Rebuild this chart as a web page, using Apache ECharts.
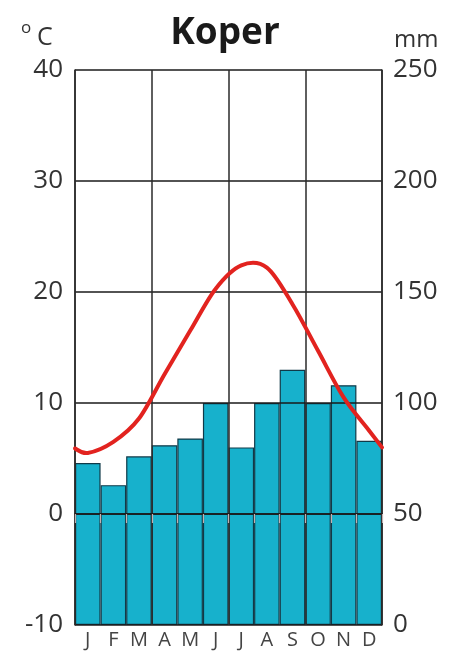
<!DOCTYPE html>
<html>
<head>
<meta charset="utf-8">
<script src="https://cdn.jsdelivr.net/npm/echarts@6/dist/echarts.min.js"></script>
<style>
html,body{margin:0;padding:0;background:#fff;}
#chart{width:450px;height:657px;}
</style>
</head>
<body>
<div id="chart"></div>
<script>
// ---- data ----
const months = ['J','F','M','A','M','J','J','A','S','O','N','D'];
const precipitation = [73, 63, 76, 81, 84, 100, 80, 100, 115, 100, 108, 83]; // mm
const temperature = [5.5, 6.5, 8.6, 12.6, 16.5, 20.3, 22.4, 22.2, 18.9, 14.7, 10.5, 7.5]; // °C, month centres
const tempAtStart = 5.9;  // value of the curve at the left edge (start of January)
const tempAtEnd = 6.0;    // value of the curve at the right edge (end of December)
const tempTicks = [-10, 0, 10, 20, 30, 40];
const precipTicks = [0, 50, 100, 150, 200, 250];
const title = 'Koper';

// ---- build ----
const lineData = [[0, tempAtStart]]
  .concat(temperature.map((t, i) => [i + 0.5, t]))
  .concat([[months.length, tempAtEnd]]);

// Catmull-Rom spline through the points (in pixel space via the axes)
function renderCurve(params, api) {
  if (params.dataIndex !== 0) return null;
  const p = lineData.map(d => api.coord(d));
  let d = 'M' + p[0][0] + ' ' + p[0][1];
  for (let i = 0; i < p.length - 1; i++) {
    const p0 = p[Math.max(i - 1, 0)], p1 = p[i], p2 = p[i + 1], p3 = p[Math.min(i + 2, p.length - 1)];
    const c1x = p1[0] + (p2[0] - p0[0]) / 6, c1y = p1[1] + (p2[1] - p0[1]) / 6;
    const c2x = p2[0] - (p3[0] - p1[0]) / 6, c2y = p2[1] - (p3[1] - p1[1]) / 6;
    d += ' C' + c1x + ' ' + c1y + ' ' + c2x + ' ' + c2y + ' ' + p2[0] + ' ' + p2[1];
  }
  return {
    type: 'path',
    shape: {pathData: d},
    style: {fill: 'none', stroke: '#e2231f', lineWidth: 4, lineCap: 'round', lineJoin: 'round'}
  };
}

const font = '"Open Sans", "Liberation Sans", sans-serif';
const chart = echarts.init(document.getElementById('chart'), null, {renderer: 'canvas'});
chart.setOption({
  backgroundColor: '#ffffff',
  animation: false,
  grid: {left: 75, right: 68, top: 70, bottom: 32},
  graphic: [
    {type: 'text', left: 'center', top: 15, z: 10,
     style: {text: title, fontSize: 37, fontWeight: 'bold', fill: '#1a1a1a', fontFamily: font}},
    {type: 'text', left: 21, top: 20, style: {text: 'o', fontSize: 17, fill: '#333', fontFamily: font}},
    {type: 'text', left: 37, top: 25, style: {text: 'C', fontSize: 25, fill: '#333', fontFamily: font}},
    {type: 'text', left: 394, top: 28, style: {text: 'mm', fontSize: 24, fill: '#333', fontFamily: font}}
  ],
  xAxis: [
    {
      type: 'category', data: months, boundaryGap: true, z: 3,
      axisLine: {show: true, lineStyle: {color: '#1a1a1a', width: 1.5}},
      axisTick: {show: true, length: 9, lineStyle: {color: '#c4b0b0', width: 1.2}},
      axisLabel: {color: '#444', fontSize: 20, margin: 5, fontFamily: font, interval: 0},
      splitLine: {show: false}
    },
    {
      type: 'value', min: 0, max: months.length, interval: 3, show: true, position: 'top', z: 3,
      axisLine: {show: false}, axisTick: {show: false}, axisLabel: {show: false},
      splitLine: {show: true, lineStyle: {color: '#2a2a2a', width: 1.5}}
    }
  ],
  yAxis: [
    {
      type: 'value', min: tempTicks[0], max: tempTicks[tempTicks.length - 1], interval: 10, z: 3,
      axisLine: {show: true, lineStyle: {color: '#2a2a2a', width: 1.5}},
      axisTick: {show: false},
      axisLabel: {color: '#333', fontSize: 26, margin: 12, fontFamily: font},
      splitLine: {show: true, lineStyle: {color: '#1a1a1a', width: 1.5}}
    },
    {
      type: 'value', min: precipTicks[0], max: precipTicks[precipTicks.length - 1], interval: 50, z: 3,
      axisLine: {show: true, lineStyle: {color: '#2a2a2a', width: 1.5}},
      axisTick: {show: false},
      axisLabel: {color: '#333', fontSize: 26, margin: 11, fontFamily: font},
      splitLine: {show: false}
    }
  ],
  series: [
    {
      type: 'bar', name: 'precipitation', data: precipitation,
      xAxisIndex: 0, yAxisIndex: 1, barCategoryGap: '0%', z: 2,
      itemStyle: {color: '#17b1cc', borderColor: '#103a48', borderWidth: 1.2}
    },
    {
      type: 'custom', name: 'temperature', data: lineData,
      xAxisIndex: 1, yAxisIndex: 0, z: 5, clip: false,
      renderItem: renderCurve
    }
  ]
});
</script>
</body>
</html>
